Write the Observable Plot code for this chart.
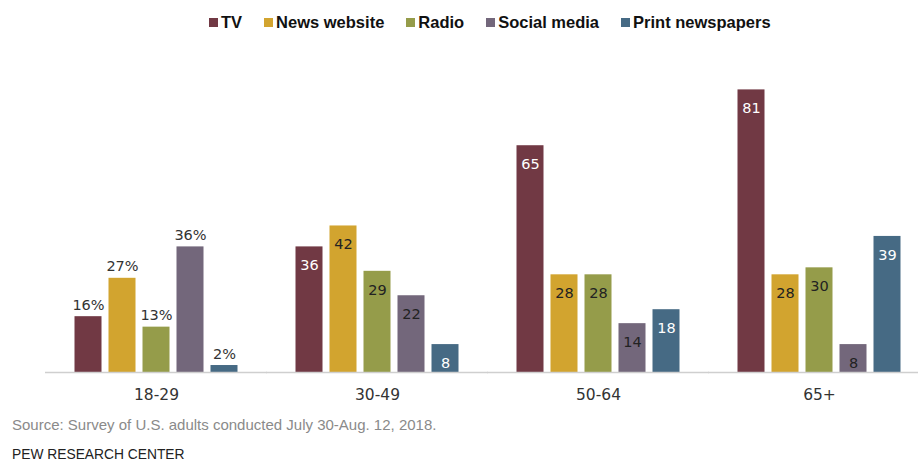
<!DOCTYPE html>
<html>
<head>
<meta charset="utf-8">
<script src="https://cdn.jsdelivr.net/npm/d3@7"></script>
<script src="https://cdn.jsdelivr.net/npm/@observablehq/plot@0.6"></script>
<style>
  html, body { margin: 0; padding: 0; background: #fff; }
  #wrap { width: 918px; height: 462px; position: relative; overflow: hidden; font-family: "Liberation Sans", Arial, sans-serif; }
  #legend { height: 40px; padding-left: 209px; box-sizing: border-box; padding-top: 13px; }
  .lg-swatches { font-family: "Liberation Sans", Arial, sans-serif !important; font-size: 16.5px !important; font-weight: bold; color: #111; min-height: 0 !important; margin: 0 !important; }
  .lg-swatch { margin-right: 22px !important; }
  .lg-swatch svg { margin-right: 3px !important; }
  .source { position: absolute; left: 12px; top: 416px; font-size: 15px; color: #8a8a8a; }
  .pew { position: absolute; left: 12px; top: 447px; font-size: 13.8px; color: #222; }
</style>
</head>
<body>
<div id="wrap">
  <div id="legend"></div>
  <div id="chart"></div>
  <div class="source">Source: Survey of U.S. adults conducted July 30-Aug. 12, 2018.</div>
  <div class="pew">PEW RESEARCH CENTER</div>
</div>
<script>
const groups = ["18-29", "30-49", "50-64", "65+"];
const series = ["TV", "News website", "Radio", "Social media", "Print newspapers"];
const colors = ["#713944", "#D2A42F", "#959C4A", "#73677B", "#466A84"];
const labelColors = ["#ffffff", "#222222", "#222222", "#222222", "#ffffff"];
const tv = [16, 36, 65, 81];
const news = [27, 42, 28, 28];
const radio = [13, 29, 28, 30];
const social = [36, 22, 14, 8];
const print = [2, 8, 18, 39];

const valuesBySeries = [tv, news, radio, social, print];
const rows = [];
series.forEach((s, si) => {
  groups.forEach((g, gi) => {
    rows.push({group: g, series: s, value: valuesBySeries[si][gi], si, gi});
  });
});
const above = rows.filter(d => d.gi === 0);
const inside = rows.filter(d => d.gi !== 0);

const legend = Plot.legend({
  color: {type: "ordinal", domain: series, range: colors},
  swatchSize: 9,
  className: "lg"
});
document.getElementById("legend").appendChild(legend);

const chart = Plot.plot({
  width: 918,
  height: 365,
  marginTop: 18,
  marginBottom: 33,
  marginLeft: 65.5,
  marginRight: 8.5,
  style: {fontFamily: "DejaVu Sans, sans-serif", fontSize: "15.5px", color: "#333", background: "white"},
  fx: {domain: groups, paddingInner: 0.193, paddingOuter: 0, axis: "bottom", label: null, tickSize: 0, tickPadding: 16},
  x: {domain: series, padding: 0.21, axis: null},
  y: {domain: [0, 90], axis: null},
  color: {domain: series, range: colors},
  marks: [
    Plot.barY(rows, {fx: "group", x: "series", y: "value", fill: "series"}),
    Plot.ruleY([0], {stroke: "#cfcfcf", strokeWidth: 1.5, insetLeft: -22, insetRight: -22}),
    Plot.text(above, {fx: "group", x: "series", y: "value", text: d => d.value + "%", lineAnchor: "bottom", dy: -7, fill: "#333", fontSize: 14.5}),
    Plot.text(inside, {fx: "group", x: "series", y: "value", text: d => String(d.value), lineAnchor: "top", dy: 13, fill: d => labelColors[d.si], fontSize: 14.5})
  ]
});
document.getElementById("chart").appendChild(chart);
</script>
</body>
</html>
